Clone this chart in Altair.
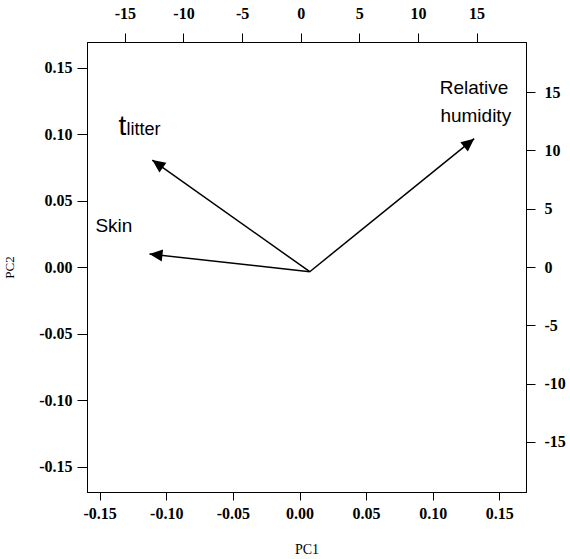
import math
import altair as alt
import pandas as pd

# Arrow (loading) vectors, in PC1/PC2 coordinates
arrow_names = ["tlitter", "Skin", "Relative humidity"]
arrow_x0 = [0.0077, 0.0077, 0.0077]
arrow_y0 = [-0.0033, -0.0033, -0.0033]
arrow_x1 = [-0.1105, -0.1126, 0.1311]
arrow_y1 = [0.0807, 0.0100, 0.0968]

# Text labels
label_text = ["t", "litter", "Skin", "Relative", "humidity"]
label_x = [-0.1359, -0.1299, -0.1532, 0.1310, 0.1323]
label_y = [0.0995, 0.0995, 0.0268, 0.1303, 0.1095]
label_size = [28, 18, 19, 19, 19]
label_align = ["left", "left", "left", "center", "center"]

# Axes
pc_ticks = [-0.15, -0.10, -0.05, 0.0, 0.05, 0.10, 0.15]
x_domain = [-0.1595, 0.170]
y_domain = [-0.169, 0.1695]
top_ticks = [-15, -10, -5, 0, 5, 10, 15]
right_ticks = [-15, -10, -5, 0, 5, 10, 15]
top_domain = [-18.23, 19.22]
right_domain = [-19.3, 19.3]

W, H = 439, 450

arrows = pd.DataFrame({"name": arrow_names, "x0": arrow_x0, "y0": arrow_y0,
                       "x1": arrow_x1, "y1": arrow_y1})
arrows["angle"] = [
    (math.degrees(math.atan2(a - b, c - d)) + 360) % 360
    for a, b, c, d in zip(arrows.x1, arrows.x0, arrows.y1, arrows.y0)
]
labels = pd.DataFrame({"text": label_text, "x": label_x, "y": label_y,
                       "size": label_size, "align": label_align})
sec = pd.DataFrame({"top": top_ticks, "right": right_ticks})

serif = "Liberation Serif"
sans = "Liberation Sans"
neg = "(datum.value < 0 ? '-' : '') + format(abs(datum.value), '{}')"

xs = alt.Scale(domain=x_domain, nice=False, zero=False)
ys = alt.Scale(domain=y_domain, nice=False, zero=False)

x_axis = alt.Axis(values=pc_ticks, labelExpr=neg.format(".2f"), title="PC1",
                  orient="bottom", tickSize=8, labelPadding=5, titlePadding=21,
                  labelFont=serif, labelFontSize=16, labelFontWeight="bold",
                  titleFont=serif, titleFontSize=14, titleFontWeight="normal",
                  grid=False, domainColor="black", tickColor="black",
                  labelColor="black", titleColor="black")
y_axis = alt.Axis(values=pc_ticks, labelExpr=neg.format(".2f"), title="PC2",
                  orient="left", tickSize=10, labelPadding=5, titlePadding=22,
                  labelFont=serif, labelFontSize=16, labelFontWeight="bold",
                  titleFont=serif, titleFontSize=13, titleFontWeight="normal",
                  grid=False, domainColor="black", tickColor="black",
                  labelColor="black", titleColor="black")

lines = alt.Chart(arrows).mark_rule(color="black", strokeWidth=1.5).encode(
    x=alt.X("x0:Q", scale=xs, axis=x_axis),
    y=alt.Y("y0:Q", scale=ys, axis=y_axis),
    x2="x1:Q", y2="y1:Q",
)
heads = alt.Chart(arrows).mark_point(
    shape="M0,0L-0.46,1L0.46,1Z", filled=True, color="black", opacity=1,
    size=676, strokeWidth=0,
).encode(
    x=alt.X("x1:Q", scale=xs), y=alt.Y("y1:Q", scale=ys),
    angle=alt.Angle("angle:Q", scale=None),
)


def text_layer(i):
    row = labels.iloc[[i]]
    return alt.Chart(row).mark_text(
        font=sans, fontSize=int(label_size[i]), align=label_align[i],
        baseline="alphabetic", color="black",
    ).encode(x=alt.X("x:Q", scale=xs), y=alt.Y("y:Q", scale=ys), text="text:N")


texts = [text_layer(i) for i in range(len(label_text))]

primary = alt.layer(lines, heads, *texts)

secondary = alt.Chart(sec).mark_point(opacity=0).encode(
    x=alt.X("top:Q", scale=alt.Scale(domain=top_domain, nice=False, zero=False),
            axis=alt.Axis(values=top_ticks, labelExpr=neg.format("d"), title=None,
                          orient="top", tickSize=9, labelPadding=12,
                          labelFont=serif, labelFontSize=16, labelFontWeight="bold",
                          grid=False, domainColor="black", tickColor="black",
                          labelColor="black")),
    y=alt.Y("right:Q", scale=alt.Scale(domain=right_domain, nice=False, zero=False),
            axis=alt.Axis(values=right_ticks, labelExpr=neg.format("d"), title=None,
                          orient="right", tickSize=9, labelPadding=9,
                          labelFont=serif, labelFontSize=16, labelFontWeight="bold",
                          grid=False, domainColor="black", tickColor="black",
                          labelColor="black")),
)

chart = alt.layer(primary, secondary).resolve_scale(
    x="independent", y="independent"
).properties(
    width=W, height=H,
    autosize=alt.AutoSizeParams(type="none"),
    padding={"left": 87, "top": 42, "right": 570 - 87 - W, "bottom": 559 - 42 - H},
    background="white",
).configure_view(stroke="black", strokeWidth=1)

chart.save("out.html", embed_options={"renderer": "svg", "actions": False})
